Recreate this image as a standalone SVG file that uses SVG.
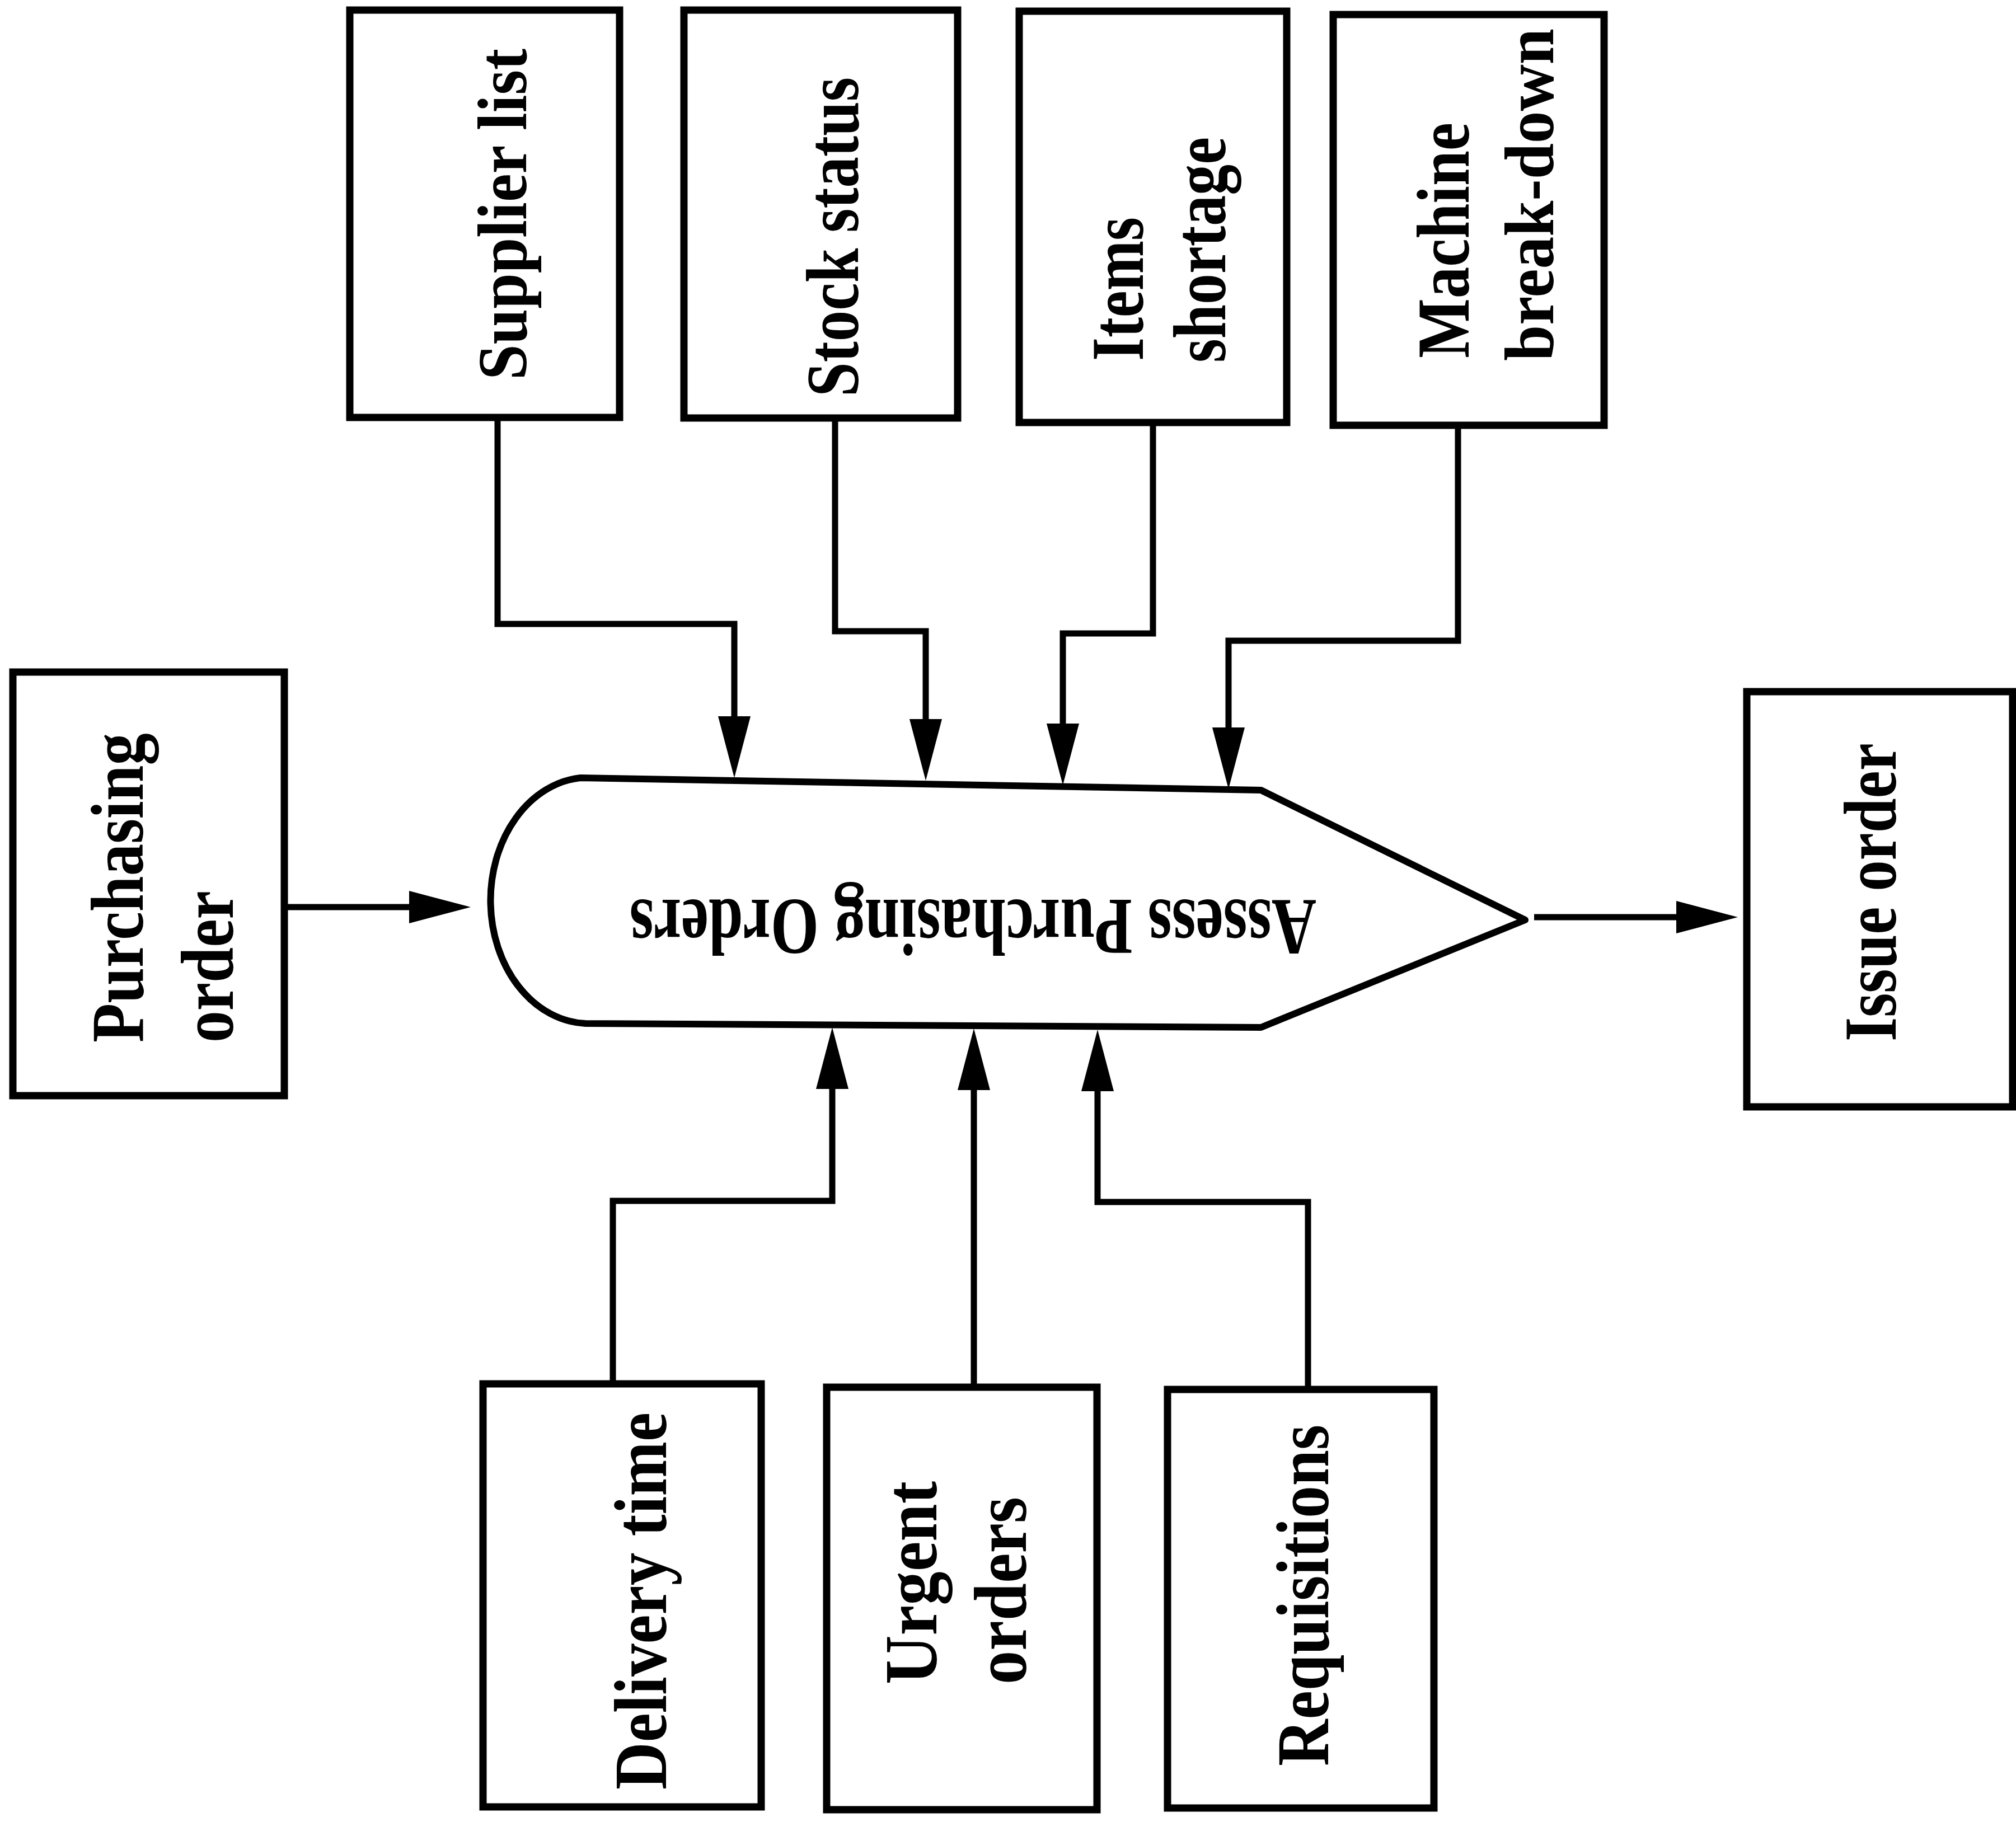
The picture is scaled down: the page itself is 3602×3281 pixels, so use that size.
<svg xmlns="http://www.w3.org/2000/svg" width="3602" height="3281" viewBox="0 0 3602 3281">
  <style>
    .box { fill: #ffffff; stroke: #000000; stroke-width: 13; }
    .proc { fill: #ffffff; stroke: #000000; stroke-width: 12; stroke-linejoin: round; }
    .lbl { font-family: "Liberation Serif", "Times New Roman", serif; font-weight: bold; font-size: 133px; fill: #000000; }
    .lbl.sm { font-size: 124px; }
    .plbl { font-family: "Liberation Serif", "Times New Roman", serif; font-weight: bold; font-size: 143px; fill: #000000; }
    .conn { fill: none; stroke: #000000; stroke-width: 11; stroke-linejoin: miter; marker-end: url(#arrow); }
  </style>
  <defs>
    <marker id="arrow" viewBox="0 0 110 58" refX="0" refY="29" markerWidth="110" markerHeight="58" markerUnits="userSpaceOnUse" orient="auto">
      <path d="M0,0 L110,29 L0,58 Z" fill="#000000"/>
    </marker>
  </defs>
  <rect width="3602" height="3281" fill="#ffffff"/>

  <!-- input boxes along the top -->
  <g id="supplier-list">
    <rect class="box" x="625" y="18" width="482" height="728"/>
    <text class="lbl sm" transform="translate(940,679) rotate(-90)" textLength="592" lengthAdjust="spacingAndGlyphs">Supplier list</text>
  </g>
  <g id="stock-status">
    <rect class="box" x="1222" y="18" width="489" height="729"/>
    <text class="lbl" transform="translate(1533,709) rotate(-90)" textLength="571" lengthAdjust="spacingAndGlyphs">Stock status</text>
  </g>
  <g id="items-shortage">
    <rect class="box" x="1821" y="20" width="478" height="735"/>
    <text class="lbl" transform="translate(2042,645) rotate(-90)" textLength="257" lengthAdjust="spacingAndGlyphs">Items</text>
    <text class="lbl" transform="translate(2189,648) rotate(-90)" textLength="403" lengthAdjust="spacingAndGlyphs">shortage</text>
  </g>
  <g id="machine-breakdown">
    <rect class="box" x="2382" y="26" width="484" height="734"/>
    <text class="lbl" transform="translate(2624,640) rotate(-90)" textLength="421" lengthAdjust="spacingAndGlyphs">Machine</text>
    <text class="lbl sm" transform="translate(2775,645) rotate(-90)" textLength="594" lengthAdjust="spacingAndGlyphs">break-down</text>
  </g>

  <!-- left input -->
  <g id="purchasing-order">
    <rect class="box" x="23" y="1201" width="485" height="757"/>
    <text class="lbl" transform="translate(255,1863) rotate(-90)" textLength="553" lengthAdjust="spacingAndGlyphs">Purchasing</text>
    <text class="lbl" transform="translate(416,1863) rotate(-90)" textLength="271" lengthAdjust="spacingAndGlyphs">order</text>
  </g>

  <!-- central process -->
  <g id="assess-purchasing-orders">
    <path class="proc" d="M1037,1390 L2253,1412 L2725,1644 L2253,1836 L1046,1829 A176 220 0 0 1 1037,1390 Z"/>
    <text class="plbl" transform="translate(2352,1608) rotate(180)" textLength="1227" lengthAdjust="spacingAndGlyphs">Assess Purchasing Orders</text>
  </g>

  <!-- output -->
  <g id="issue-order">
    <rect class="box" x="3121" y="1236" width="475" height="742"/>
    <text class="lbl" transform="translate(3387,1861) rotate(-90)" textLength="533" lengthAdjust="spacingAndGlyphs">Issue order</text>
  </g>

  <!-- input boxes along the bottom -->
  <g id="delivery-time">
    <rect class="box" x="863" y="2473" width="497" height="756"/>
    <text class="lbl" transform="translate(1190,3198) rotate(-90)" textLength="674" lengthAdjust="spacingAndGlyphs">Delivery time</text>
  </g>
  <g id="urgent-orders">
    <rect class="box" x="1477" y="2479" width="483" height="755"/>
    <text class="lbl" transform="translate(1673,3010) rotate(-90)" textLength="363" lengthAdjust="spacingAndGlyphs">Urgent</text>
    <text class="lbl" transform="translate(1833,3010) rotate(-90)" textLength="335" lengthAdjust="spacingAndGlyphs">orders</text>
  </g>
  <g id="requisitions">
    <rect class="box" x="2086" y="2483" width="476" height="748"/>
    <text class="lbl" transform="translate(2373,3156) rotate(-90)" textLength="610" lengthAdjust="spacingAndGlyphs">Requisitions</text>
  </g>

  <!-- connectors: each path ends at the arrowhead base -->
  <g id="connectors">
    <path class="conn" d="M889,746 V1115 H1312 V1280"/>
    <path class="conn" d="M1492,747 V1128 H1654 V1285"/>
    <path class="conn" d="M2060,755 V1132 H1899 V1293"/>
    <path class="conn" d="M2605,760 V1145 H2195 V1300"/>
    <path class="conn" d="M508,1621 H731"/>
    <path class="conn" d="M2741,1639 H2995"/>
    <path class="conn" d="M1095,2473 V2146 H1487 V1946"/>
    <path class="conn" d="M1740,2479 V1948"/>
    <path class="conn" d="M2337,2483 V2148 H1961 V1950"/>
  </g>
</svg>
